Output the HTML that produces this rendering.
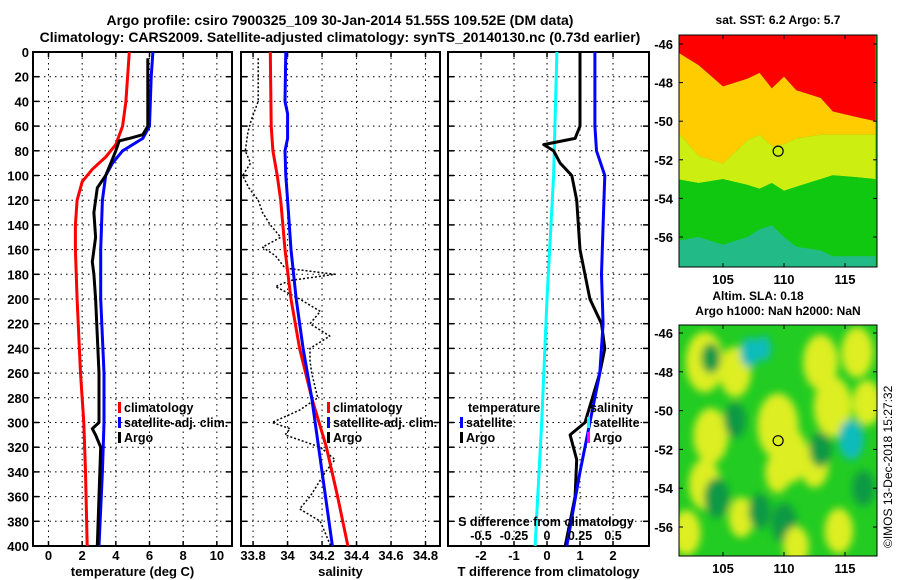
<!DOCTYPE html>
<html><head><meta charset="utf-8">
<style>
html,body{margin:0;padding:0;background:#fff;}
svg{display:block;font-family:"Liberation Sans",sans-serif;font-weight:bold;}
</style></head>
<body>
<svg id="fig" width="900" height="580" viewBox="0 0 900 580" xmlns="http://www.w3.org/2000/svg">
<defs>
<filter id="blur2" x="-20%" y="-20%" width="140%" height="140%"><feGaussianBlur stdDeviation="4"/></filter>
<clipPath id="clipM2"><rect x="679" y="325" width="198" height="231"/></clipPath>
<clipPath id="clipM1"><rect x="679" y="35" width="198" height="232"/></clipPath>
</defs>
<text x="340" y="25" font-size="14" text-anchor="middle">Argo profile: csiro 7900325_109 30-Jan-2014 51.55S 109.52E (DM data)</text>
<text x="340" y="42" font-size="14" text-anchor="middle">Climatology: CARS2009. Satellite-adjusted climatology: synTS_20140130.nc (0.73d earlier)</text>
<g id="plots"></g>
<text x="778" y="24" font-size="12" text-anchor="middle">sat. SST: 6.2 Argo: 5.7</text>
<text x="758" y="300" font-size="12" text-anchor="middle">Altim. SLA: 0.18</text>
<text x="778" y="315" font-size="12" text-anchor="middle">Argo h1000: NaN h2000: NaN</text>
<text transform="translate(892,548) rotate(-90)" font-size="12" font-weight="normal">©IMOS 13-Dec-2018 15:27:32</text>
</svg>
<script>
// ---------- data ----------
const depthTicks=[0,20,40,60,80,100,120,140,160,180,200,220,240,260,280,300,320,340,360,380,400];
const tempTicks=[0,2,4,6,8,10];
const salTicks=[33.8,34,34.2,34.4,34.6,34.8];
const salTickLabels=["33.8","34","34.2","34.4","34.6","34.8"];
const diffTicks=[-2,-1,0,1,2];
const sDiffTicks=[-0.5,-0.25,0,0.25,0.5];
const sDiffLabels=["-0.5","-0.25","0","0.25","0.5"];

const tClimDepth=[0,20,40,60,75,85,95,105,120,140,160,200,260,300,340,400];
const tClimVal=[4.8,4.7,4.6,4.4,4.0,3.4,2.6,2.0,1.7,1.6,1.6,1.7,1.9,2.1,2.2,2.3];
const tSatDepth=[0,20,60,70,80,90,100,120,160,200,260,300,340,400];
const tSatVal=[6.2,6.1,6.0,5.6,4.4,3.8,3.4,3.2,3.1,3.1,3.3,3.3,3.2,3.0];
const tArgoDepth=[5,60,67,70,72,80,90,100,110,130,150,170,180,200,260,300,305,310,320,360,400];
const tArgoVal=[5.9,5.9,5.6,4.8,4.2,4.0,3.7,3.4,2.9,2.7,2.8,2.6,2.7,2.8,3.0,3.0,2.6,2.8,3.1,3.0,2.9];

const sClimDepth=[0,60,80,100,120,160,200,240,280,320,360,400];
const sClimVal=[33.90,33.905,33.915,33.94,33.96,33.985,34.02,34.07,34.14,34.225,34.29,34.35];
const sSatDepth=[0,40,50,70,80,100,120,160,200,240,280,320,360,400];
const sSatVal=[33.99,33.985,34.0,34.0,33.985,33.99,34.0,34.02,34.05,34.09,34.14,34.18,34.22,34.26];
const sArgoDepth=[5,40,55,65,80,90,100,110,120,130,140,150,158,165,175,180,185,190,200,210,220,230,240,250,260,280,290,300,305,310,320,330,340,360,370,380,400];
const sArgoVal=[33.83,33.83,33.79,33.77,33.755,33.785,33.74,33.775,33.83,33.855,33.90,33.96,33.855,33.93,33.985,34.275,34.015,33.93,34.07,34.19,34.13,34.245,34.13,34.13,34.14,34.175,34.07,33.91,34.015,33.985,34.19,34.275,34.22,34.13,34.07,34.19,34.25];

const dTSatDepth=[0,60,80,100,140,180,220,260,300,340,400];
const dTSatVal=[1.45,1.45,1.5,1.75,1.7,1.65,1.7,1.6,1.3,1.0,0.6];
const dTArgoDepth=[0,60,70,75,80,90,100,120,160,200,220,240,260,300,310,330,360,400];
const dTArgoVal=[1.0,1.0,0.85,-0.1,0.2,0.4,0.75,0.9,1.0,1.3,1.65,1.75,1.6,1.15,0.7,0.9,0.85,0.55];
const dSSatDepth=[0,100,200,300,400];
const dSSatVal=[0.075,0.05,0.0,-0.04,-0.09];

// SST map: band boundary latitudes per longitude column
const sstLon=[101.2,103,105,107,108,109,110,111,113,114,116,117.5];
const sstRedEdge=[-46.4,-47.1,-48.2,-47.8,-47.5,-48.3,-47.7,-48.4,-48.8,-49.5,-49.8,-50.0];
const sstYelEdge=[-50.5,-51.8,-52.2,-51.0,-50.7,-51.3,-51.2,-50.9,-50.7,-50.7,-50.7,-50.7];
const sstGreenEdge=[-53.0,-53.2,-53.0,-53.3,-53.5,-53.2,-53.6,-53.4,-53.0,-52.8,-52.9,-53.0];
const sstCyanEdge=[-56.2,-56.0,-56.4,-56.0,-55.6,-55.4,-56.0,-56.5,-56.7,-57.0,-57.0,-57.0];
// SLA map blobs: lon, lat, radius(deg), type
const blobLon=[103.5,104,106,109.5,110.5,113,114,116.8,103.5,106.5,109.5,112.5,102,114.5,116,104,107.2,106,104.5,110,115.5,113,108.3,116.5,108,111];
const blobLat=[-47.5,-51.3,-48,-50.8,-52.3,-47.5,-49.8,-49.6,-53.8,-55.5,-53.2,-52.8,-56.3,-56.2,-47,-47.3,-47,-50.5,-54.5,-55.8,-51.5,-52,-46.8,-54,-55.2,-57];
const blobR=[1.2,1.1,1.0,1.3,1.1,1.1,1.2,0.9,1.0,0.8,0.8,0.9,0.9,0.9,1.0,0.6,0.6,0.7,0.8,0.8,0.8,0.7,0.5,0.7,0.7,0.8];
const blobType=["y","y","y","y","y","y","y","y","y","y","y","y","y","y","y","d","c","d","d","d","c","d","c","d","d","y"];

// ---------- drawing ----------
const NS="http://www.w3.org/2000/svg";
const root=document.getElementById('plots');
function mk(tag,attrs,parent){const e=document.createElementNS(NS,tag);for(const k in attrs)e.setAttribute(k,attrs[k]);(parent||root).appendChild(e);return e;}
const Y0=52,Y1=546;
function yD(d){return Y0+d*(Y1-Y0)/400;}
function scaleX(x0,x1,v0,v1){return v=>x0+(v-v0)*(x1-x0)/(v1-v0);}

const panels=[
 {x0:33,x1:232,v0:-0.92,v1:10.9,name:'temperature-panel'},
 {x0:241,x1:440,v0:33.730,v1:34.884,name:'salinity-panel'},
 {x0:448,x1:649,v0:-3.0,v1:3.09,name:'t-difference-panel'}
];
const sx=panels.map(p=>scaleX(p.x0,p.x1,p.v0,p.v1));
const xTicksArr=[tempTicks,salTicks,diffTicks];
const xLabelsArr=[tempTicks.map(String),salTickLabels,diffTicks.map(String)];
const titles=['temperature (deg C)','salinity','T difference from climatology'];

panels.forEach((p,i)=>{
  const g=mk('g',{});
  
  
  depthTicks.forEach(d=>{
    const l=mk('line',{x1:p.x0,x2:p.x1,y1:yD(d),y2:yD(d),stroke:'#000','stroke-width':1,'stroke-dasharray':'1.5,4'},g);
    
    mk('line',{x1:p.x0,x2:p.x0+6,y1:yD(d),y2:yD(d),stroke:'#000','stroke-width':1.5},g);
    mk('line',{x1:p.x1-6,x2:p.x1,y1:yD(d),y2:yD(d),stroke:'#000','stroke-width':1.5},g);
  });
  xTicksArr[i].forEach((t,j)=>{
    const x=sx[i](t);
    const l=mk('line',{x1:x,x2:x,y1:Y0,y2:Y1,stroke:'#000','stroke-width':1,'stroke-dasharray':'1.5,4'},g);
    
    mk('line',{x1:x,x2:x,y1:Y0,y2:Y0+5,stroke:'#000','stroke-width':1.5},g);
    mk('line',{x1:x,x2:x,y1:Y1-5,y2:Y1,stroke:'#000','stroke-width':1.5},g);
    const tx=mk('text',{x:x,y:560,'font-size':13,'text-anchor':'middle'},g);
    tx.textContent=xLabelsArr[i][j];
    
  });
  const fr=mk('rect',{x:p.x0,y:Y0,width:p.x1-p.x0,height:Y1-Y0,fill:'none',stroke:'#000','stroke-width':2},g);
  
  const tt=mk('text',{x:(p.x0+p.x1)/2,y:576,'font-size':13,'text-anchor':'middle'},g);
  tt.textContent=titles[i];
  
});
depthTicks.forEach(d=>{
  const t=mk('text',{x:29,y:yD(d)+5,'font-size':13,'text-anchor':'end'});
  t.textContent=String(d);
  
});

function line(pi,depths,vals,color,name,w,dash){
  const pts=depths.map((d,k)=>sx[pi](vals[k]).toFixed(1)+','+yD(d).toFixed(1)).join(' ');
  const a={points:pts,fill:'none',stroke:color,'stroke-width':w||3,'stroke-linejoin':'round'};
  if(dash)a['stroke-dasharray']=dash;
  const e=mk('polyline',a);
  
  
}
line(0,tClimDepth,tClimVal,'#f00','temp-climatology-line');
line(0,tSatDepth,tSatVal,'#00f','temp-satellite-line');
line(0,tArgoDepth,tArgoVal,'#000','temp-argo-line');
line(1,sArgoDepth,sArgoVal,'#000','salinity-argo-line',1.5,'2,2');
line(1,sClimDepth,sClimVal,'#f00','salinity-climatology-line');
line(1,sSatDepth,sSatVal,'#00f','salinity-satellite-line');
line(2,dSSatDepth,dSSatVal.map(v=>v*4),'#0ff','s-diff-satellite-line');
line(2,dTArgoDepth,dTArgoVal,'#000','t-diff-argo-line');
line(2,dTSatDepth,dTSatVal,'#00f','t-diff-satellite-line');

function legend(x,y,color,label,name){
  const g=mk('g',{});
  
  if(color)mk('rect',{x:x,y:y-10,width:3,height:11,fill:color},g);
  const t=mk('text',{x:x+(color?6:0),y:y,'font-size':12.5},g);t.textContent=label;
}
legend(118,412,'#f00','climatology','legend-temp-climatology');
legend(118,427,'#00f','satellite-adj. clim.','legend-temp-satellite');
legend(118,442,'#000','Argo','legend-temp-argo');
legend(327,412,'#f00','climatology','legend-sal-climatology');
legend(327,427,'#00f','satellite-adj. clim.','legend-sal-satellite');
legend(327,442,'#000','Argo','legend-sal-argo');
legend(468,412,null,'temperature','legend-temperature-heading');
legend(460,427,'#00f','satellite','legend-t-satellite');
legend(460,442,'#000','Argo','legend-t-argo');
legend(590,412,null,'salinity','legend-salinity-heading');
legend(587,427,'#0ff','satellite','legend-s-satellite');
legend(587,442,'#f0f','Argo','legend-s-argo');
{const t=mk('text',{x:546,y:526,'font-size':12.5,'text-anchor':'middle'});t.textContent='S difference from climatology';
}
sDiffTicks.forEach((v,j)=>{const t=mk('text',{x:sx[2](v*4),y:540,'font-size':12.5,'text-anchor':'middle'});t.textContent=sDiffLabels[j];
});

// ---- maps ----
const mlon=lon=>723+(lon-105)*12.2;
const m1lat=lat=>44+(-46-lat)*19.3;
const m2lat=lat=>333+(-46-lat)*19.4;
function bandPoly(edgeTop,edgeBot,color,name,g){
  const top=sstLon.map((l,k)=>mlon(l).toFixed(1)+','+(edgeTop?m1lat(edgeTop[k]):35).toFixed(1));
  const bot=sstLon.map((l,k)=>mlon(l).toFixed(1)+','+(edgeBot?m1lat(edgeBot[k]):267).toFixed(1)).reverse();
  const e=mk('polygon',{points:top.concat(bot).join(' '),fill:color},g);
  
}
const g1=mk('g',{'clip-path':'url(#clipM1)'});

mk('rect',{x:679,y:35,width:198,height:232,fill:'#11c811'},g1);
bandPoly(null,sstRedEdge,'#ff0000','sst-band-red',g1);
bandPoly(sstRedEdge,sstYelEdge,'#ffcc00','sst-band-orange',g1);
bandPoly(sstYelEdge,sstGreenEdge,'#ccee11','sst-band-yellow',g1);
bandPoly(sstGreenEdge,sstCyanEdge,'#11c811','sst-band-green',g1);
bandPoly(sstCyanEdge,null,'#22bb88','sst-band-cyan',g1);
const g2=mk('g',{'clip-path':'url(#clipM2)'});

mk('rect',{x:679,y:325,width:198,height:231,fill:'#22cc22'},g2);
const bg=mk('g',{filter:'url(#blur2)'},g2);
const bcol={y:'#ddee22',d:'#119944',c:'#11bbbb'};
blobLon.forEach((l,k)=>{
  const e=mk('ellipse',{cx:mlon(l),cy:m2lat(blobLat[k]),rx:blobR[k]*12.2*1.3,ry:blobR[k]*19.4*1.3,fill:bcol[blobType[k]]},bg);
  
});
[[35,267,m1lat,'sst'],[325,556,m2lat,'sla']].forEach(([y0,y1,fl,nm])=>{
  const f=mk('rect',{x:679,y:y0,width:198,height:y1-y0,fill:'none',stroke:'#000','stroke-width':1});
  
  [-46,-48,-50,-52,-54,-56].forEach(lat=>{
    const y=fl(lat);
    mk('line',{x1:679,x2:683,y1:y,y2:y,stroke:'#000'});mk('line',{x1:873,x2:877,y1:y,y2:y,stroke:'#000'});
    const t=mk('text',{x:673,y:y+5,'font-size':13,'text-anchor':'end'});t.textContent=String(lat);
    
  });
  [105,110,115].forEach(lon=>{
    const x=mlon(lon);
    mk('line',{x1:x,x2:x,y1:y0,y2:y0+4,stroke:'#000'});mk('line',{x1:x,x2:x,y1:y1-4,y2:y1,stroke:'#000'});
    const t=mk('text',{x:x,y:y1+17,'font-size':13,'text-anchor':'middle'});t.textContent=String(lon);
    
  });
  const c=mk('circle',{cx:mlon(109.52),cy:fl(-51.55),r:5,fill:'none',stroke:'#000','stroke-width':1.2});
  
});
</script>
</body></html>
